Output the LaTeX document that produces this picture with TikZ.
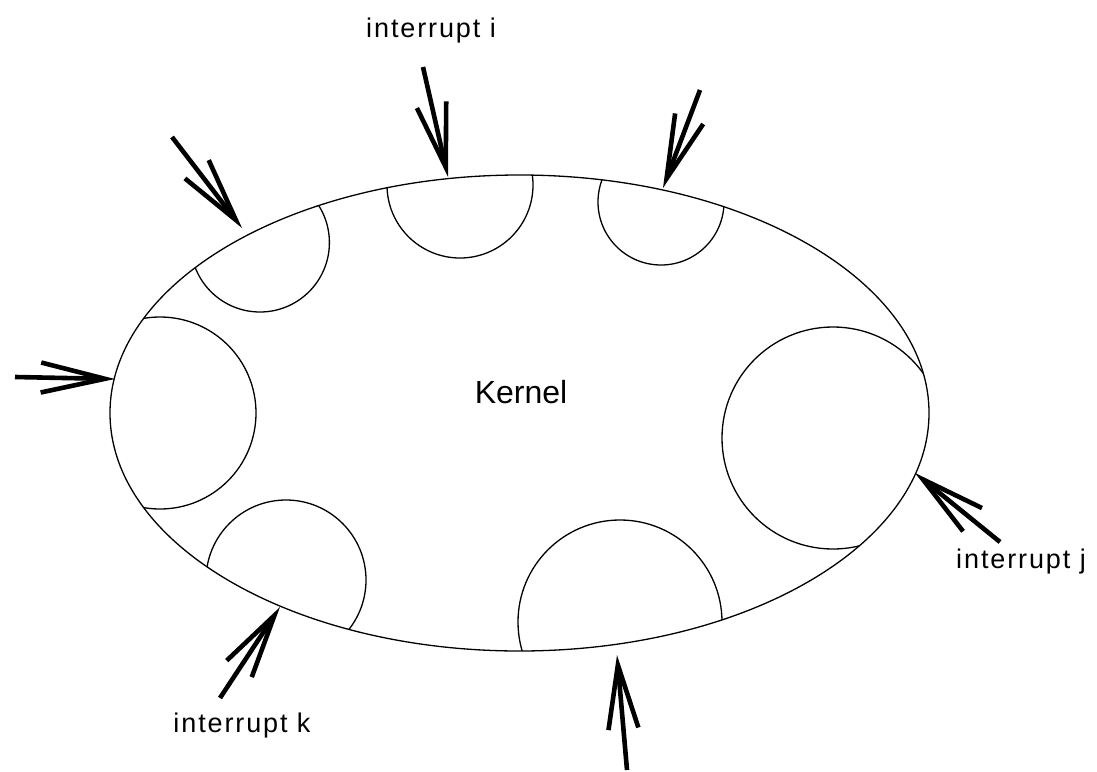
\documentclass[tikz,border=0pt]{standalone}
\usepackage{fontspec}
\setmainfont{Liberation Sans}
\newfontfamily\lblfont[LetterSpace=7]{Liberation Sans}
\usetikzlibrary{arrows.meta,shapes.geometric}
\tikzset{
  thin line/.style={line width=1.3pt},
  intarrow/.style={line width=4.6pt, -{Straight Barb[length=64pt,width=30pt]}},
  lbl/.style={font=\lblfont\fontsize{27}{32}\selectfont, inner sep=0pt},
  klbl/.style={font=\fontsize{32}{38}\selectfont, inner sep=0pt},
}
\begin{document}
\begin{tikzpicture}[x=1pt,y=-1pt]
\useasboundingbox (0,0) rectangle (1097,771);
\fill[white] (0,0) rectangle (1097,771);
% sub-circles clipped to the kernel ellipse
\begin{scope}
  \clip (519.5,413) ellipse [x radius=409.5pt, y radius=238pt];
  \draw[thin line] (260,242.6) circle [radius=69.4pt];
  \draw[thin line] (460,185) circle [radius=73pt];
  \draw[thin line] (661,202) circle [radius=63pt];
  \draw[thin line] (160,413) circle [radius=96pt];
  \draw[thin line] (833,438) circle [radius=111pt];
  \draw[thin line] (286,580) circle [radius=80pt];
  \draw[thin line] (620,622) circle [radius=102pt];
\end{scope}
\node[draw, thin line, ellipse, minimum width=819pt, minimum height=476pt, inner sep=0pt] (kernel) at (519.5,413) {};
\node[klbl] (klabel) at (521,392) {Kernel};
% labels
\node[lbl] (li) at (431,31) {interrupt i};
\node[lbl] (lj) at (1021,562) {interrupt j};
\node[lbl] (lk) at (242,726) {interrupt k};
% arrow end points
\coordinate (t1) at (423,67);   \coordinate (h1) at (448,177);
\coordinate (t2) at (700,90);   \coordinate (h2) at (663,188);
\coordinate (t3) at (172,137);  \coordinate (h3) at (242,228);
\coordinate (t4) at (15,377);   \coordinate (h4) at (115,379);
\coordinate (t5) at (1000,542); \coordinate (h5) at (915,473);
\coordinate (t6) at (627,770);  \coordinate (h6) at (617,655);
\coordinate (t7) at (220,698);  \coordinate (h7) at (280,607);
\foreach \i in {1,...,7} \draw[intarrow] (t\i) -- (h\i);
\end{tikzpicture}
\end{document}
